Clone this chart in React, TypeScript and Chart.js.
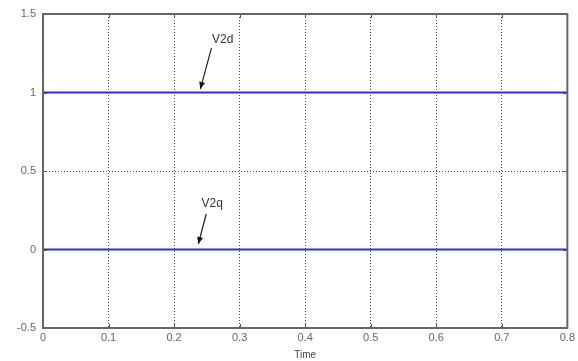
import React, { useEffect, useRef } from "react";
import { Chart, registerables } from "chart.js";

Chart.register(...registerables);

const time = [0, 0.8];
const v2d = [1, 1];
const v2q = [0, 0];
const xTicks = [0, 0.1, 0.2, 0.3, 0.4, 0.5, 0.6, 0.7, 0.8];
const yTicks = [-0.5, 0, 0.5, 1, 1.5];
const labelNames = ["V2d", "V2q"];
const labelPos = [[0.258, 1.334], [0.242, 0.29]];
const arrowFrom = [[0.257, 1.283], [0.249, 0.226]];
const arrowTo = [[0.240, 1.022], [0.237, 0.035]];

const FONT = "'Liberation Sans', Arial, sans-serif";

const boxPlugin = {
  id: "boxAndNotes",
  afterDatasetsDraw(chart: any) {
    const { ctx, chartArea, scales } = chart;
    const xs = scales.x, ys = scales.y;
    ctx.save();
    // inner tick marks
    ctx.strokeStyle = "#555";
    ctx.lineWidth = 1;
    ctx.beginPath();
    xTicks.forEach((t) => {
      const px = Math.round(xs.getPixelForValue(t)) + 0.5;
      ctx.moveTo(px, chartArea.bottom);
      ctx.lineTo(px, chartArea.bottom - 4);
      ctx.moveTo(px, chartArea.top);
      ctx.lineTo(px, chartArea.top + 4);
    });
    yTicks.forEach((t) => {
      const py = Math.round(ys.getPixelForValue(t)) + 0.5;
      ctx.moveTo(chartArea.left, py);
      ctx.lineTo(chartArea.left + 4, py);
      ctx.moveTo(chartArea.right, py);
      ctx.lineTo(chartArea.right - 4, py);
    });
    ctx.stroke();
    // box
    ctx.strokeStyle = "#666";
    ctx.lineWidth = 2;
    ctx.strokeRect(chartArea.left, chartArea.top, chartArea.right - chartArea.left, chartArea.bottom - chartArea.top);
    // annotations
    ctx.fillStyle = "#333";
    ctx.font = `12px ${FONT}`;
    ctx.textBaseline = "middle";
    ctx.textAlign = "left";
    labelNames.forEach((n, i) => {
      ctx.fillText(n, xs.getPixelForValue(labelPos[i][0]), ys.getPixelForValue(labelPos[i][1]));
      const x1 = xs.getPixelForValue(arrowFrom[i][0]);
      const y1 = ys.getPixelForValue(arrowFrom[i][1]);
      const x2 = xs.getPixelForValue(arrowTo[i][0]);
      const y2 = ys.getPixelForValue(arrowTo[i][1]);
      ctx.strokeStyle = "#222";
      ctx.lineWidth = 1.2;
      ctx.beginPath();
      ctx.moveTo(x1, y1);
      ctx.lineTo(x2, y2);
      ctx.stroke();
      const ang = Math.atan2(y2 - y1, x2 - x1);
      const L = 7, W = 3;
      ctx.fillStyle = "#111";
      ctx.beginPath();
      ctx.moveTo(x2, y2);
      ctx.lineTo(x2 - L * Math.cos(ang) + W * Math.sin(ang), y2 - L * Math.sin(ang) - W * Math.cos(ang));
      ctx.lineTo(x2 - L * Math.cos(ang) - W * Math.sin(ang), y2 - L * Math.sin(ang) + W * Math.cos(ang));
      ctx.closePath();
      ctx.fill();
      ctx.fillStyle = "#333";
    });
    ctx.restore();
  },
};

export default function App() {
  const ref = useRef<HTMLCanvasElement>(null);
  useEffect(() => {
    if (!ref.current) return;
    const chart = new Chart(ref.current, {
      type: "line",
      data: {
        datasets: [
          {
            label: "V2d",
            data: time.map((t, i) => ({ x: t, y: v2d[i] })),
            borderColor: "rgb(45,45,225)",
            borderWidth: 2,
            pointRadius: 0,
            fill: false,
          },
          {
            label: "V2q",
            data: time.map((t, i) => ({ x: t, y: v2q[i] })),
            borderColor: "rgb(45,45,225)",
            borderWidth: 2,
            pointRadius: 0,
            fill: false,
          },
        ],
      },
      options: {
        animation: false,
        responsive: false,
        maintainAspectRatio: false,
        layout: { padding: { left: 0, right: 9, top: 14, bottom: 0 } },
        plugins: { legend: { display: false }, tooltip: { enabled: false } },
        scales: {
          x: {
            type: "linear",
            min: 0,
            max: 0.8,
            afterBuildTicks: (s: any) => {
              s.ticks = xTicks.map((v) => ({ value: v }));
            },
            afterFit: (s: any) => {
              s.height = 33;
            },
            ticks: {
              padding: 3,
              color: "#666",
              font: { family: FONT, size: 11 },
              callback: (v: any) => String(parseFloat(Number(v).toFixed(1))),
              maxRotation: 0,
            },
            grid: {
              color: "#444",
              lineWidth: 1,
              drawTicks: false,
            },
            border: { display: false, dash: [1, 2] },
            title: {
              display: true,
              text: "Time",
              color: "#444",
              font: { family: FONT, size: 10 },
              padding: { top: 0, bottom: 0 },
            },
          },
          y: {
            type: "linear",
            min: -0.5,
            max: 1.5,
            afterBuildTicks: (s: any) => {
              s.ticks = yTicks.map((v) => ({ value: v }));
            },
            afterFit: (s: any) => {
              s.width = 43;
            },
            ticks: {
              padding: 7,
              color: "#666",
              font: { family: FONT, size: 11 },
              callback: (v: any) => String(v),
            },
            grid: {
              color: "#444",
              lineWidth: 1,
              drawTicks: false,
            },
            border: { display: false, dash: [1, 2] },
          },
        },
      },
      plugins: [boxPlugin],
    } as any);
    return () => chart.destroy();
  }, []);
  return (
    <div style={{ position: "fixed", left: 0, top: 0, width: 578, height: 361, background: "#fff" }}>
      <canvas ref={ref} width={578} height={361} style={{ width: 578, height: 361 }} />
    </div>
  );
}
